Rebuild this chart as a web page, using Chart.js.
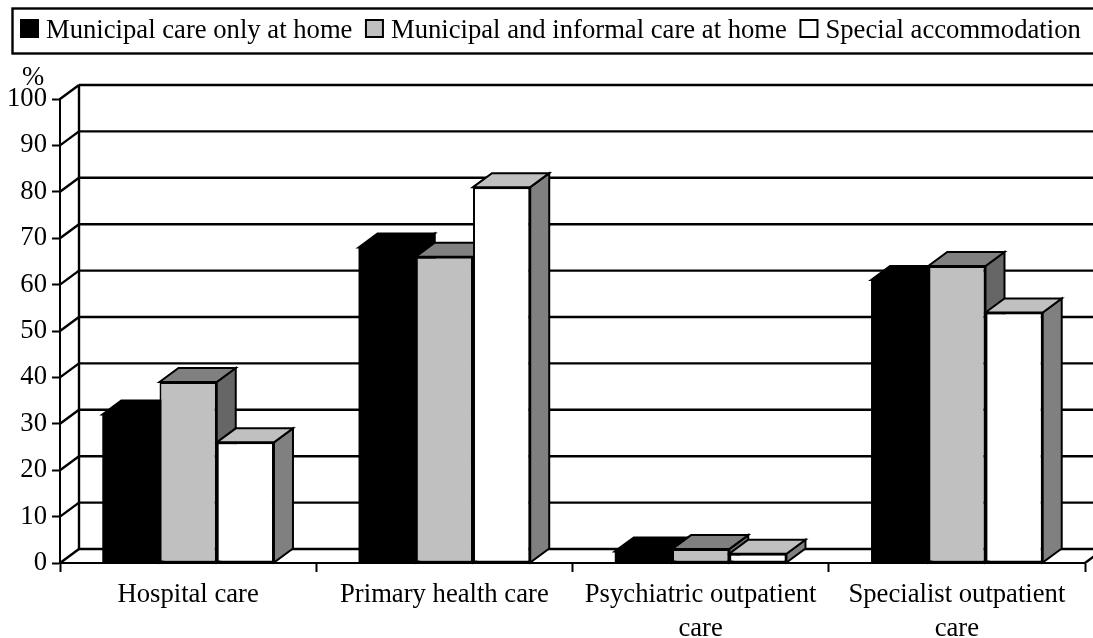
<!DOCTYPE html>
<html lang="en">
  <head>
    <meta charset="UTF-8" />
    <title>Care use by type of home care</title>
    <script src="https://cdn.jsdelivr.net/npm/chart.js"></script>
    <style>
      html,
      body {
        margin: 0;
        background: #ffffff;
      }
      canvas {
        display: block;
      }
    </style>
  </head>
  <body>
    <canvas id="chart" width="1093" height="638"></canvas>
    <script>
      // values
      const categories = [
        "Hospital care",
        "Primary health care",
        ["Psychiatric outpatient", "care"],
        ["Specialist outpatient", "care"],
      ];
      const seriesNames = [
        "Municipal care only at home",
        "Municipal and informal care at home",
        "Special accommodation",
      ];
      const municipalOnly = [32, 68, 2.5, 61];
      const municipalInformal = [39, 66, 3, 64];
      const specialAccommodation = [26, 81, 2, 54];

      const frontColors = ["#000000", "#c0c0c0", "#ffffff"];
      const topColors = ["#000000", "#808080", "#c0c0c0"];
      const sideColors = ["#000000", "#666666", "#808080"];
      const frontBorders = [0, 2, 2];

      const unitLabel = "%";
      const serif = "'Liberation Serif', 'Times New Roman', serif";
      const fontSize = 26.67;
      const depthX = 19;
      const depthY = -14;

      function strokeLine(ctx, x1, y1, x2, y2) {
        ctx.beginPath();
        ctx.moveTo(x1, y1);
        ctx.lineTo(x2, y2);
        ctx.stroke();
      }

      function fillShape(ctx, points, color) {
        ctx.beginPath();
        points.forEach((p, i) => (i ? ctx.lineTo(p[0], p[1]) : ctx.moveTo(p[0], p[1])));
        ctx.closePath();
        ctx.fillStyle = color;
        ctx.fill();
        ctx.stroke();
      }

      // back wall, floor and the slanted grid lines
      const wallPlugin = {
        id: "wall",
        beforeDatasetsDraw(chart) {
          const { ctx, chartArea, scales } = chart;
          ctx.save();
          ctx.strokeStyle = "#000000";
          ctx.lineWidth = 2.4;
          scales.y.ticks.forEach((tick) => {
            const y = scales.y.getPixelForValue(tick.value);
            strokeLine(ctx, chartArea.left, y, chartArea.left + depthX, y + depthY);
            strokeLine(ctx, chartArea.left + depthX, y + depthY, chart.width, y + depthY);
          });
          strokeLine(
            ctx,
            chartArea.left + depthX,
            chartArea.top + depthY,
            chartArea.left + depthX,
            chartArea.bottom + depthY
          );
          strokeLine(
            ctx,
            chartArea.right,
            chartArea.bottom,
            chartArea.right + depthX,
            chartArea.bottom + depthY
          );
          ctx.restore();
        },
      };

      // tops and sides of the bars, the fronts come from the bar elements
      const depthPlugin = {
        id: "depth",
        beforeDatasetsDraw(chart) {
          const { ctx } = chart;
          ctx.save();
          ctx.strokeStyle = "#000000";
          ctx.lineWidth = 2;
          chart.data.datasets.forEach((dataset, i) => {
            chart.getDatasetMeta(i).data.forEach((bar) => {
              const left = bar.x - bar.width / 2;
              const right = bar.x + bar.width / 2;
              fillShape(
                ctx,
                [
                  [right, bar.y],
                  [right + depthX, bar.y + depthY],
                  [right + depthX, bar.base + depthY],
                  [right, bar.base],
                ],
                sideColors[i]
              );
              fillShape(
                ctx,
                [
                  [left, bar.y],
                  [left + depthX, bar.y + depthY],
                  [right + depthX, bar.y + depthY],
                  [right, bar.y],
                ],
                topColors[i]
              );
            });
          });
          ctx.restore();
        },
      };

      // framed legend row and the unit above the value axis
      const framePlugin = {
        id: "frame",
        afterDraw(chart) {
          const { ctx, scales } = chart;
          ctx.save();
          ctx.strokeStyle = "#000000";
          ctx.lineWidth = 2.4;
          ctx.strokeRect(12.5, 8.5, chart.width, 45);
          ctx.font = fontSize + "px " + serif;
          ctx.textBaseline = "alphabetic";
          let textX = 46;
          seriesNames.forEach((name, i) => {
            ctx.fillStyle = frontColors[i];
            ctx.lineWidth = 2;
            ctx.fillRect(textX - 25, 20, 17, 17);
            ctx.strokeRect(textX - 25, 20, 17, 17);
            ctx.fillStyle = "#000000";
            ctx.fillText(name, textX, 38);
            textX += ctx.measureText(name).width + 38.5;
          });
          ctx.textAlign = "center";
          ctx.textBaseline = "middle";
          ctx.fillText(unitLabel, 33, scales.y.top - 21);
          ctx.restore();
        },
      };

      Chart.defaults.animation = false;

      new Chart(document.getElementById("chart"), {
        type: "bar",
        data: {
          labels: categories,
          datasets: [municipalOnly, municipalInformal, specialAccommodation].map((values, i) => ({
            label: seriesNames[i],
            data: values,
            backgroundColor: frontColors[i],
            borderColor: "#000000",
            borderWidth: frontBorders[i],
            borderSkipped: false,
            categoryPercentage: 0.67,
            barPercentage: 1,
          })),
        },
        options: {
          responsive: false,
          layout: { padding: { top: 99, right: 8, left: 0, bottom: 0 } },
          plugins: {
            tooltip: { enabled: false },
            legend: { display: false },
          },
          scales: {
            x: {
              afterFit(scale) {
                scale.height = 75;
              },
              grid: { drawOnChartArea: false, tickLength: 9, tickColor: "#000000", tickWidth: 2 },
              border: { color: "#000000", width: 2 },
              ticks: {
                color: "#000000",
                font: { family: serif, size: fontSize, lineHeight: 1.28 },
                maxRotation: 0,
                autoSkip: false,
                padding: 6,
              },
            },
            y: {
              min: 0,
              max: 100,
              afterFit(scale) {
                scale.width = 60;
              },
              grid: { drawOnChartArea: false, tickLength: 8, tickColor: "#000000", tickWidth: 2 },
              border: { color: "#000000", width: 2 },
              ticks: {
                stepSize: 10,
                color: "#000000",
                font: { family: serif, size: fontSize },
                padding: 5,
              },
            },
          },
        },
        plugins: [wallPlugin, depthPlugin, framePlugin],
      });
    </script>
  </body>
</html>
